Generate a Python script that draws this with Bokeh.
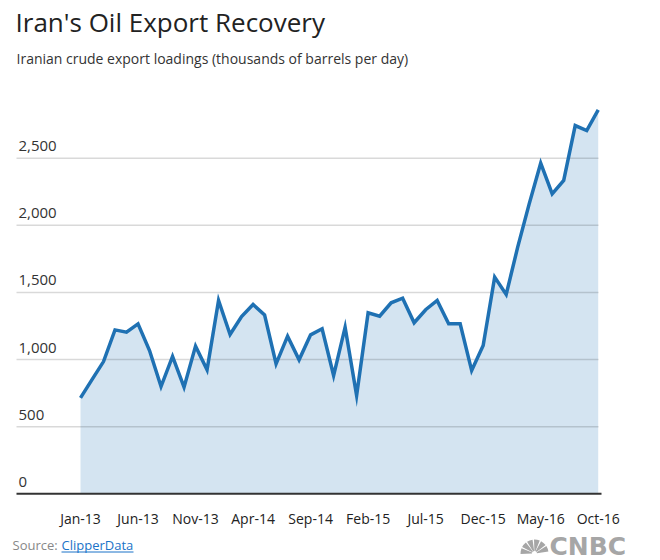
import math
import pandas as pd
from bokeh.plotting import figure
from bokeh.models import Range1d
from bokeh.core.properties import value
from bokeh.embed import file_html
from bokeh.resources import INLINE

# ---------------- data ----------------
months = list(pd.date_range("2013-01-01", periods=46, freq="MS").strftime("%b-%y"))
loadings = [715, 851, 985, 1221, 1204, 1266, 1067, 799, 1023, 794, 1100, 924,
            1440, 1187, 1321, 1410, 1333, 968, 1174, 998, 1184, 1229, 881, 1241,
            732, 1348, 1323, 1423, 1457, 1274, 1371, 1440, 1266, 1266, 918, 1105,
            1614, 1485, 1837, 2160, 2463, 2235, 2334, 2743, 2706, 2860]
y_ticks = [0, 500, 1000, 1500, 2000, 2500]
y_tick_labels = ["0", "500", "1,000", "1,500", "2,000", "2,500"]
x_tick_idx = list(range(0, 46, 5))
x_tick_labels = [months[i] for i in x_tick_idx]

title = "Iran's Oil Export Recovery"
subtitle = "Iranian crude export loadings (thousands of barrels per day)"

# ---------------- layout helpers (pixel <-> data) ----------------
W, H = 660, 560
X0_PX, DX_PX = 80.0, 11.505      # pixel of first month, pixels per month
Y0_PX, DY_PX = 493.3, 0.13424    # pixel of value 0, pixels per unit


def px2x(px):
    return (px - X0_PX) / DX_PX


def py2y(py):
    return (Y0_PX - py) / DY_PX


p = figure(width=W, height=H, min_border=0, output_backend="svg",
           toolbar_location=None, x_axis_location=None, y_axis_location=None,
           x_range=Range1d(px2x(0), px2x(W)), y_range=Range1d(py2y(H), py2y(0)),
           outline_line_color=None)
p.xgrid.visible = False
p.ygrid.visible = False
p.background_fill_color = "white"
p.border_fill_color = "white"

FONT = value("Open Sans")
idx = list(range(len(loadings)))

# area
p.varea(x=idx, y1=[0] * len(idx), y2=loadings, fill_color="#d4e4f1")

# gridlines
p.segment(x0=[px2x(16)] * len(y_ticks[1:]), x1=[px2x(598)] * len(y_ticks[1:]),
          y0=y_ticks[1:], y1=y_ticks[1:], line_color="black", line_alpha=0.15,
          line_width=1.5)
# baseline
p.segment(x0=[px2x(16)], x1=[px2x(601)], y0=[0], y1=[0], line_color="#333333",
          line_width=2)

# line
p.line(idx, loadings, line_color="#1f71b3", line_width=3.5, line_join="miter")

# y tick labels
p.text(x=[px2x(18)] * len(y_ticks), y=y_ticks, text=y_tick_labels,
       text_font=FONT, text_font_size="15px", text_color="#333333",
       text_baseline="middle", text_align="left", y_offset=-12)

# x tick labels
p.text(x=x_tick_idx, y=[py2y(518)] * len(x_tick_idx), text=x_tick_labels,
       text_font=FONT, text_font_size="14px", text_color="#222222",
       text_baseline="middle", text_align="center")

# title & subtitle
p.text(x=[px2x(15)], y=[py2y(21)], text=[title], text_font=FONT,
       text_font_size="26px", text_color="#222222", text_baseline="middle")
p.text(x=[px2x(16)], y=[py2y(58)], text=[subtitle], text_font=FONT,
       text_font_size="14px", text_color="#333333", text_baseline="middle")

# source
p.text(x=[px2x(12)], y=[py2y(544)], text=["Source:"], text_font=FONT,
       text_font_size="13px", text_color="#888888", text_baseline="middle")
p.text(x=[px2x(61)], y=[py2y(544)], text=["ClipperData"], text_font=FONT,
       text_font_size="13px", text_color="#1a73c8", text_baseline="middle")
p.segment(x0=[px2x(61)], x1=[px2x(133)], y0=[py2y(551.5)], y1=[py2y(551.5)],
          line_color="#1a73c8", line_width=1)

# CNBC logo (approximation)
fan_angles = [math.radians(a) for a in (170, 140, 110, 80, 50, 20)]
p.annular_wedge(x=[px2x(534)] * 6, y=[py2y(553)] * 6, inner_radius=2.5,
                outer_radius=14, inner_radius_units="screen",
                outer_radius_units="screen",
                start_angle=[a - math.radians(12) for a in fan_angles],
                end_angle=[a + math.radians(12) for a in fan_angles],
                fill_color="#a6a6a6", line_color=None)
p.text(x=[px2x(549)], y=[py2y(545.5)], text=["CNBC"], text_font=value("DejaVu Sans"),
       text_font_style="bold", text_font_size="25px", text_color="#a6a6a6",
       text_baseline="middle")

open("out.html", "w").write(file_html(p, INLINE))
